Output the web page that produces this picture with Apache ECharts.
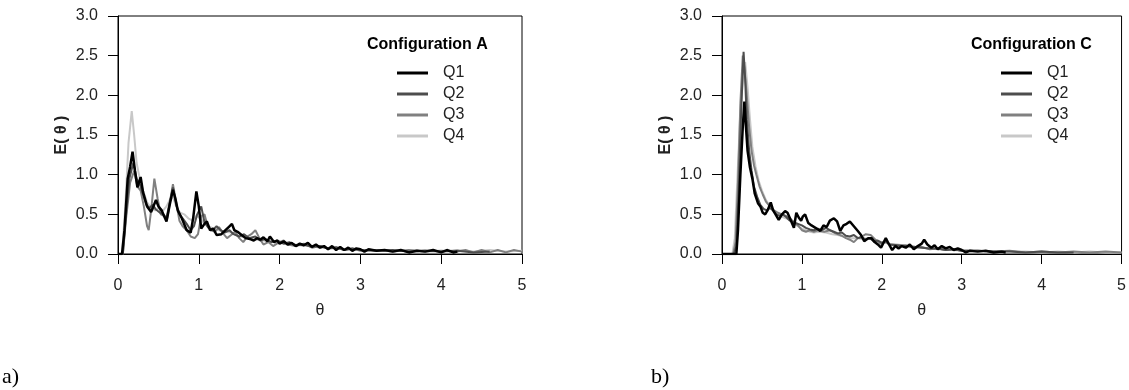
<!DOCTYPE html>
<html>
<head>
<meta charset="utf-8">
<script src="https://cdn.jsdelivr.net/npm/echarts@6/dist/echarts.min.js"></script>
<style>
  body { margin: 0; background: #fff; }
  #main { width: 1129px; height: 390px; }
</style>
</head>
<body>
<div id="main"></div>
<script>
// data, [theta, E(theta)]
var names = ['Q1', 'Q2', 'Q3', 'Q4']
var colors = ['#000000', '#4d4d4d', '#808080', '#c8c8c8']
var xTicks = [0, 1, 2, 3, 4, 5]
var yTicks = [0, 0.5, 1, 1.5, 2, 2.5, 3]

// Configuration A
var aQ1 = [[0,0],[0.05,0],[0.08,0.3],[0.12,0.95],[0.15,1.1],[0.18,1.29],[0.21,1.05],[0.24,0.84],[0.28,0.97],[0.31,0.78],[0.36,0.6],[0.41,0.53],[0.45,0.63],[0.47,0.68],[0.5,0.6],[0.54,0.55],[0.57,0.48],[0.6,0.41],[0.64,0.62],[0.68,0.81],[0.71,0.7],[0.74,0.55],[0.79,0.45],[0.85,0.3],[0.9,0.27],[0.93,0.45],[0.97,0.79],[1.0,0.6],[1.03,0.32],[1.07,0.38],[1.1,0.41],[1.14,0.3],[1.18,0.32],[1.22,0.24],[1.28,0.25],[1.33,0.3],[1.37,0.34],[1.41,0.38],[1.44,0.3],[1.48,0.28],[1.53,0.24],[1.58,0.2],[1.63,0.19],[1.68,0.17],[1.72,0.2],[1.76,0.18],[1.8,0.21],[1.85,0.16],[1.88,0.22],[1.93,0.15],[1.97,0.17],[2.0,0.13],[2.05,0.16],[2.1,0.12],[2.15,0.14],[2.2,0.1],[2.25,0.13],[2.3,0.11],[2.35,0.14],[2.4,0.09],[2.45,0.12],[2.5,0.08],[2.55,0.1],[2.6,0.06],[2.65,0.1],[2.7,0.05],[2.75,0.09],[2.8,0.05],[2.85,0.08],[2.9,0.04],[2.95,0.07],[3.0,0.06],[3.05,0.03],[3.1,0.06],[3.2,0.04],[3.3,0.05],[3.4,0.03],[3.5,0.05],[3.6,0.02],[3.7,0.04],[3.8,0.03],[3.9,0.05],[4.0,0.02],[4.07,0.05],[4.15,0.02],[4.2,0.03]]
var aQ2 = [[0,0],[0.06,0],[0.1,0.5],[0.14,0.95],[0.19,1.15],[0.23,0.95],[0.27,0.88],[0.31,0.75],[0.35,0.62],[0.39,0.58],[0.43,0.62],[0.47,0.56],[0.52,0.52],[0.56,0.5],[0.6,0.45],[0.64,0.65],[0.68,0.84],[0.72,0.62],[0.76,0.5],[0.8,0.45],[0.85,0.38],[0.9,0.3],[0.94,0.35],[0.98,0.5],[1.03,0.6],[1.07,0.4],[1.12,0.33],[1.17,0.3],[1.22,0.35],[1.27,0.3],[1.32,0.27],[1.38,0.3],[1.43,0.25],[1.5,0.22],[1.56,0.25],[1.62,0.2],[1.7,0.22],[1.76,0.17],[1.82,0.19],[1.9,0.15],[1.97,0.17],[2.05,0.13],[2.12,0.15],[2.2,0.11],[2.3,0.12],[2.4,0.09],[2.5,0.1],[2.6,0.07],[2.7,0.08],[2.8,0.05],[2.9,0.07],[3.0,0.05],[3.2,0.04],[3.4,0.05],[3.6,0.03],[3.8,0.04],[4.0,0.03],[4.2,0.04],[4.4,0.02],[4.6,0.03]]
var aQ3 = [[0,0],[0.06,0],[0.1,0.45],[0.15,0.9],[0.2,1.05],[0.24,0.85],[0.28,0.8],[0.32,0.6],[0.36,0.35],[0.38,0.3],[0.41,0.55],[0.45,0.95],[0.49,0.7],[0.53,0.5],[0.57,0.48],[0.61,0.45],[0.65,0.7],[0.68,0.88],[0.72,0.65],[0.76,0.42],[0.8,0.35],[0.85,0.3],[0.9,0.22],[0.95,0.2],[0.99,0.25],[1.03,0.48],[1.07,0.5],[1.11,0.35],[1.15,0.3],[1.2,0.28],[1.25,0.34],[1.3,0.26],[1.35,0.2],[1.4,0.24],[1.45,0.28],[1.5,0.2],[1.55,0.15],[1.6,0.22],[1.65,0.25],[1.7,0.3],[1.75,0.2],[1.8,0.12],[1.86,0.15],[1.92,0.1],[1.98,0.14],[2.05,0.17],[2.1,0.12],[2.2,0.1],[2.3,0.13],[2.4,0.08],[2.5,0.1],[2.6,0.07],[2.7,0.09],[2.8,0.05],[2.9,0.07],[3.0,0.04],[3.2,0.05],[3.4,0.03],[3.6,0.05],[3.8,0.03],[4.0,0.04],[4.2,0.03],[4.3,0.05],[4.4,0.02],[4.5,0.05],[4.6,0.02],[4.7,0.05],[4.8,0.02],[4.9,0.05],[5.0,0.03]]
var aQ4 = [[0,0],[0.05,0],[0.09,0.6],[0.13,1.4],[0.17,1.8],[0.2,1.5],[0.23,1.15],[0.27,0.95],[0.31,0.8],[0.36,0.65],[0.41,0.58],[0.46,0.55],[0.51,0.58],[0.56,0.55],[0.6,0.6],[0.64,0.68],[0.68,0.72],[0.72,0.6],[0.77,0.52],[0.82,0.5],[0.87,0.45],[0.92,0.42],[0.97,0.48],[1.02,0.45],[1.07,0.38],[1.12,0.35],[1.18,0.32],[1.25,0.3],[1.32,0.28],[1.4,0.27],[1.48,0.23],[1.56,0.21],[1.64,0.2],[1.72,0.18],[1.8,0.17],[1.9,0.15],[2.0,0.14],[2.1,0.12],[2.2,0.12],[2.3,0.1],[2.4,0.1],[2.5,0.08],[2.6,0.08],[2.7,0.07],[2.8,0.06],[2.9,0.06],[3.0,0.05],[3.2,0.05],[3.4,0.04],[3.6,0.04],[3.8,0.05],[4.0,0.03],[4.2,0.05],[4.4,0.03],[4.6,0.05],[4.8,0.03],[5.0,0.04]]

// Configuration C
var cQ1 = [[0,0],[0.1,0],[0.18,0],[0.2,0.3],[0.23,1.0],[0.26,1.6],[0.28,1.92],[0.3,1.6],[0.32,1.3],[0.35,1.09],[0.38,0.95],[0.41,0.76],[0.45,0.64],[0.48,0.6],[0.51,0.52],[0.54,0.5],[0.57,0.55],[0.61,0.65],[0.64,0.55],[0.67,0.5],[0.71,0.43],[0.75,0.5],[0.79,0.54],[0.82,0.52],[0.85,0.45],[0.9,0.33],[0.93,0.52],[0.96,0.46],[0.99,0.42],[1.01,0.47],[1.04,0.5],[1.08,0.39],[1.12,0.36],[1.17,0.33],[1.23,0.29],[1.27,0.36],[1.31,0.34],[1.35,0.42],[1.4,0.45],[1.44,0.41],[1.48,0.29],[1.52,0.36],[1.56,0.38],[1.6,0.41],[1.65,0.35],[1.7,0.29],[1.74,0.24],[1.78,0.16],[1.83,0.2],[1.87,0.2],[1.91,0.15],[1.95,0.12],[1.99,0.08],[2.05,0.2],[2.09,0.12],[2.13,0.05],[2.17,0.1],[2.21,0.07],[2.25,0.1],[2.3,0.08],[2.35,0.12],[2.4,0.06],[2.45,0.1],[2.5,0.13],[2.53,0.18],[2.57,0.12],[2.62,0.08],[2.66,0.11],[2.7,0.06],[2.75,0.1],[2.8,0.07],[2.85,0.09],[2.9,0.05],[2.95,0.07],[3.0,0.05],[3.05,0.02],[3.1,0.04],[3.2,0.03],[3.3,0.04],[3.4,0.02],[3.5,0.03],[3.55,0.02]]
var cQ2 = [[0,0],[0.15,0],[0.18,0.1],[0.21,0.8],[0.24,1.8],[0.27,2.55],[0.29,2.2],[0.31,1.7],[0.34,1.3],[0.37,1.05],[0.4,0.85],[0.44,0.72],[0.48,0.62],[0.52,0.57],[0.56,0.55],[0.6,0.58],[0.64,0.55],[0.68,0.5],[0.72,0.48],[0.76,0.5],[0.8,0.47],[0.85,0.42],[0.9,0.4],[0.95,0.38],[1.0,0.36],[1.05,0.33],[1.1,0.31],[1.15,0.3],[1.2,0.32],[1.25,0.3],[1.3,0.33],[1.35,0.3],[1.4,0.28],[1.45,0.26],[1.5,0.27],[1.55,0.23],[1.6,0.22],[1.65,0.24],[1.7,0.2],[1.75,0.21],[1.8,0.18],[1.85,0.2],[1.9,0.16],[1.95,0.17],[2.0,0.14],[2.05,0.16],[2.1,0.12],[2.2,0.11],[2.3,0.1],[2.4,0.09],[2.5,0.08],[2.6,0.07],[2.7,0.07],[2.8,0.05],[2.9,0.06],[3.0,0.04],[3.2,0.04],[3.4,0.03],[3.6,0.03],[3.8,0.02],[4.0,0.03],[4.2,0.02],[4.4,0.02]]
var cQ3 = [[0,0],[0.14,0],[0.17,0.15],[0.2,0.9],[0.23,1.9],[0.26,2.5],[0.28,2.35],[0.31,2.0],[0.34,1.6],[0.37,1.3],[0.4,1.12],[0.43,1.0],[0.47,0.85],[0.51,0.75],[0.55,0.66],[0.6,0.6],[0.65,0.55],[0.7,0.52],[0.75,0.5],[0.8,0.48],[0.85,0.45],[0.9,0.4],[0.95,0.36],[1.0,0.3],[1.05,0.28],[1.1,0.3],[1.15,0.28],[1.2,0.3],[1.28,0.28],[1.35,0.3],[1.42,0.26],[1.5,0.23],[1.55,0.2],[1.6,0.18],[1.65,0.15],[1.7,0.2],[1.75,0.22],[1.8,0.25],[1.86,0.24],[1.92,0.18],[1.98,0.13],[2.05,0.15],[2.1,0.12],[2.2,0.1],[2.3,0.11],[2.4,0.08],[2.5,0.09],[2.6,0.06],[2.7,0.07],[2.8,0.05],[2.9,0.06],[3.0,0.04],[3.2,0.04],[3.4,0.03],[3.6,0.04],[3.8,0.02],[4.0,0.03],[4.2,0.02],[4.4,0.03],[4.6,0.02],[4.8,0.03],[5.0,0.02]]
var cQ4 = [[0,0],[0.13,0],[0.16,0.2],[0.19,0.9],[0.23,1.8],[0.27,2.3],[0.29,2.42],[0.32,2.1],[0.35,1.7],[0.38,1.35],[0.42,1.1],[0.46,0.92],[0.5,0.8],[0.55,0.68],[0.6,0.6],[0.65,0.55],[0.7,0.5],[0.75,0.47],[0.8,0.45],[0.85,0.43],[0.9,0.38],[0.95,0.35],[1.0,0.32],[1.05,0.3],[1.1,0.28],[1.15,0.27],[1.22,0.28],[1.3,0.27],[1.38,0.25],[1.45,0.24],[1.52,0.22],[1.6,0.2],[1.68,0.2],[1.75,0.19],[1.82,0.2],[1.9,0.18],[2.0,0.15],[2.1,0.13],[2.2,0.12],[2.3,0.1],[2.4,0.09],[2.5,0.08],[2.6,0.07],[2.7,0.06],[2.8,0.05],[2.9,0.05],[3.0,0.04],[3.2,0.04],[3.4,0.03],[3.6,0.03],[3.8,0.03],[4.0,0.02],[4.2,0.03],[4.4,0.02],[4.6,0.03],[4.8,0.02],[5.0,0.02]]

var panels = [
  { title: 'Configuration A', tag: 'a)', tagLeft: 2, left: 118, series: [aQ1, aQ2, aQ3, aQ4] },
  { title: 'Configuration C', tag: 'b)', tagLeft: 651, left: 722, series: [cQ1, cQ2, cQ3, cQ4] }
]

var font = "'Liberation Sans', Arial, sans-serif"
var widths = [2.5, 2, 2, 2]

var grids = [], xAxes = [], yAxes = [], series = [], titles = [], legends = [], graphics = []
panels.forEach(function (p, k) {
  grids.push({ left: p.left, top: 16, width: 404, height: 238, show: true, borderColor: '#000', borderWidth: 1, backgroundColor: 'transparent' })
  xAxes.push({
    type: 'value', gridIndex: k, min: xTicks[0], max: xTicks[xTicks.length - 1], interval: 1,
    name: 'θ', nameLocation: 'middle', nameGap: 49,
    nameTextStyle: { fontSize: 16, color: '#222', fontFamily: font },
    axisLine: { show: true, onZero: false, lineStyle: { color: '#000', width: 1 } },
    axisTick: { show: true, length: 10, lineStyle: { color: '#000' } },
    axisLabel: { fontSize: 16, color: '#222', margin: 24, fontFamily: font },
    splitLine: { show: false }
  })
  yAxes.push({
    type: 'value', gridIndex: k, min: yTicks[0], max: yTicks[yTicks.length - 1], interval: 0.5,
    name: 'E( θ )', nameLocation: 'middle', nameGap: 48,
    nameTextStyle: { fontSize: 16, fontWeight: 'bold', color: '#222', fontFamily: font },
    axisLine: { show: true, onZero: false, lineStyle: { color: '#000', width: 1 } },
    axisTick: { show: true, length: 10, lineStyle: { color: '#000' } },
    axisLabel: { fontSize: 16, color: '#222', margin: 20, fontFamily: font, formatter: function (v) { return v.toFixed(1) } },
    splitLine: { show: false }
  })
  p.series.forEach(function (d, i) {
    series.push({
      name: names[i], type: 'line', xAxisIndex: k, yAxisIndex: k, data: d,
      symbol: 'none', color: colors[i], z: 10 - i,
      lineStyle: { width: widths[i], color: colors[i] }
    })
  })
  titles.push({
    text: p.title, left: p.left + 249, top: 37, padding: 0,
    textStyle: { fontSize: 16, fontWeight: 'bold', color: '#000', fontFamily: font }
  })
  legends.push({
    data: names, orient: 'vertical', left: p.left + 279, top: 65, padding: 0,
    itemWidth: 31, itemHeight: 3, itemGap: 5, icon: 'rect', selectedMode: false,
    textStyle: { fontSize: 16, lineHeight: 16, color: '#222', fontFamily: font, padding: [0, 0, 0, 10] }
  })
  graphics.push({
    type: 'text', left: p.tagLeft, top: 366,
    style: { text: p.tag, font: '22px "Liberation Serif", "Times New Roman", serif', fill: '#000' }
  })
})

var myChart = echarts.init(document.getElementById('main'))
myChart.setOption({
  animation: false,
  backgroundColor: '#fff',
  title: titles,
  legend: legends,
  grid: grids,
  xAxis: xAxes,
  yAxis: yAxes,
  series: series,
  graphic: graphics
})
</script>
</body>
</html>
